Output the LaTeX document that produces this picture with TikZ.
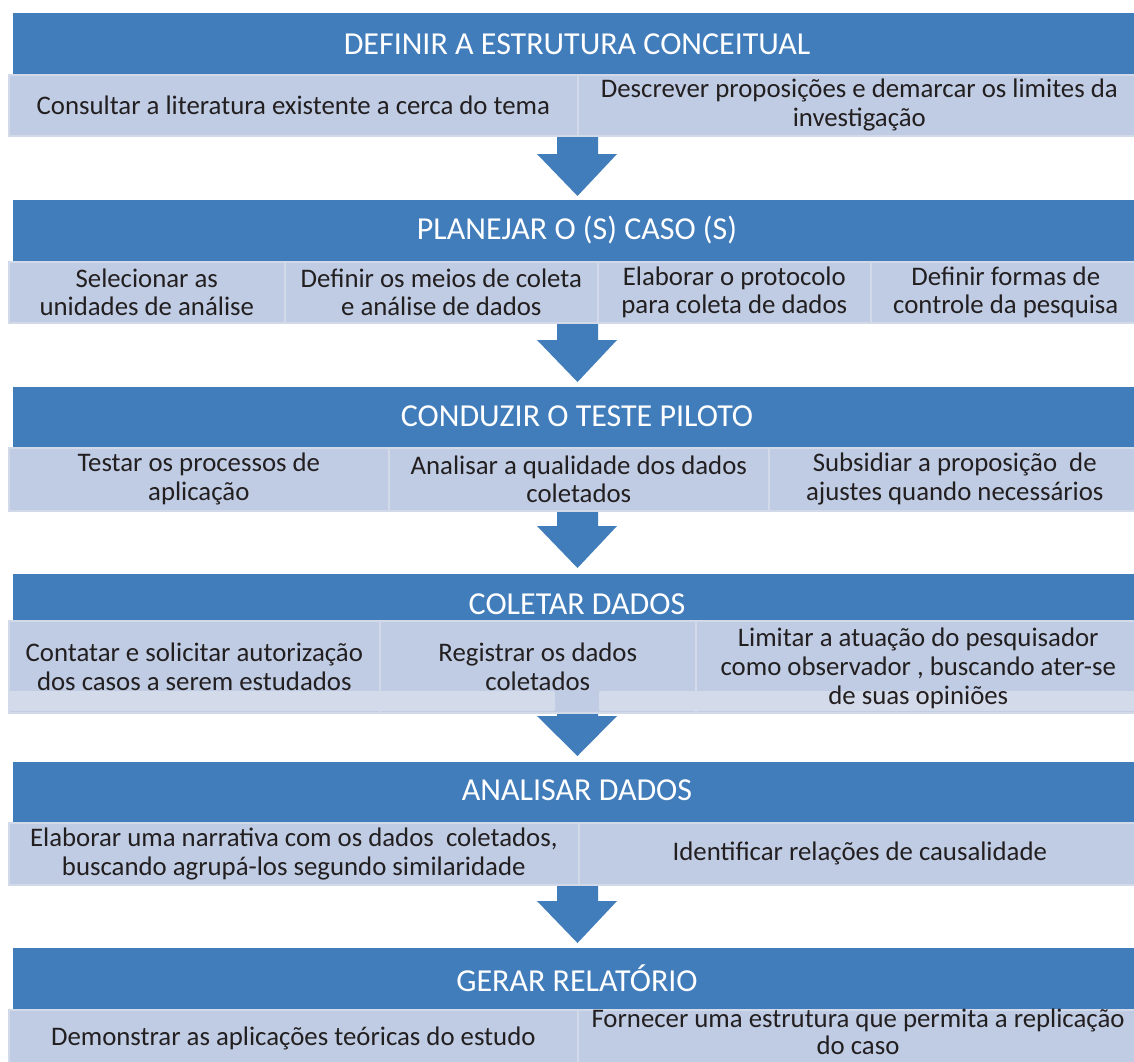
\documentclass[tikz,border=0pt]{standalone}
\usepackage{fontspec}
\setmainfont{Carlito}
\usetikzlibrary{calc}
\definecolor{hdrblue}{HTML}{427DBB}
\definecolor{subfill}{HTML}{BFCCE3}
\definecolor{subedge}{HTML}{D2DAEA}
\definecolor{bandfill}{HTML}{D3DAE9}
\definecolor{txt}{HTML}{231F20}
\tikzset{
 hdrbox/.style={fill=hdrblue, draw=none, inner sep=0pt},
 hdrtext/.style={text=white, font=\fontsize{24}{28}\selectfont, inner sep=0pt},
 subtext/.style={text=txt, font=\fontsize{20.1}{21.6}\selectfont, align=center, inner sep=0pt},
 subbox/.style={fill=subfill, draw=subedge, line width=1.2pt, inner sep=0pt},
 blockarrow/.style={fill=hdrblue, draw=none},
 bandstrip/.style={fill=bandfill, draw=none, rounded corners=1.5pt},
}
% name, y1, y2, title, title y
\newcommand\hdrrow[5]{%
 \node[hdrbox, anchor=north west, minimum width={0.75pt*(1140-13)}, minimum height={0.75pt*(#3-#2)}] (#1) at (13,#2) {};
 \node[hdrtext] (#1t) at (577,#5) {#4};
}
% name, x1, y1, x2, y2, text
\newcommand\subcell[6]{%
 \node[subbox, anchor=north west, minimum width={0.75pt*(#4-#2)}, minimum height={0.75pt*(#5-#3)}] (#1) at (#2,#3) {};
 \node[subtext] (#1t) at (#1.center) {#6};
}
% name, shaft top, head top, tip
\newcommand\flowdown[4]{%
 \coordinate (#1s) at (577.5,#2);
 \coordinate (#1e) at (577.5,#4);
 \fill[blockarrow] (557,#2) -- (598,#2) -- (598,#3) -- (617,#3) -- (#1e) -- (537,#3) -- (557,#3) -- cycle;
}
\begin{document}
\begin{tikzpicture}[x=0.75pt,y=-0.75pt]
\useasboundingbox (0,0) rectangle (1134,1061);
\clip (0,0) rectangle (1134,1061);

% arrows (behind boxes)
\flowdown{a1}{128}{154}{196}
\flowdown{a2}{316}{340}{382}
\flowdown{a3}{504}{526}{568}
\flowdown{a4}{708}{716}{756}
\flowdown{a5}{878}{901}{943}

% row 1
\hdrrow{h1}{13}{75}{DEFINIR A ESTRUTURA CONCEITUAL}{44}
\subcell{s1a}{8}{74}{577}{135}{Consultar a literatura existente a cerca do tema}
\subcell{s1b}{577}{74}{1140}{135}{Descrever proposições e demarcar os limites da\\investigação}

% row 2
\hdrrow{h2}{200}{262}{PLANEJAR O (S) CASO (S)}{230}
\subcell{s2a}{8}{261}{284}{322}{Selecionar as\\unidades de análise}
\subcell{s2b}{284}{261}{597}{322}{Definir os meios de coleta\\e análise de dados}
\subcell{s2c}{597}{261}{870}{322}{Elaborar o protocolo\\para coleta de dados}
\subcell{s2d}{870}{261}{1140}{322}{Definir formas de\\controle da pesquisa}

% row 3
\hdrrow{h3}{387}{448}{CONDUZIR O TESTE PILOTO}{416}
\subcell{s3a}{8}{447}{388}{510}{Testar os processos de\\aplicação}
\subcell{s3b}{388}{447}{768}{510}{Analisar a qualidade dos dados\\coletados}
\subcell{s3c}{768}{447}{1140}{510}{Subsidiar a proposição\ \ de\\ajustes quando necessários}

% row 4
\hdrrow{h4}{574}{621}{COLETAR DADOS}{604}
\subcell{s4a}{8}{620}{379}{712}{}
\subcell{s4b}{379}{620}{695}{712}{}
\subcell{s4c}{695}{620}{1140}{712}{}
\fill[bandstrip] (9,691) rectangle (555,711);
\fill[bandstrip] (599,691) rectangle (1139,711);
\node[subtext] (s4at) at (s4a.center) {Contatar e solicitar autorização\\dos casos a serem estudados};
\node[subtext] (s4bt) at (s4b.center) {Registrar os dados\\coletados};
\node[subtext] (s4ct) at ([yshift=-1pt]s4c.center) {Limitar a atuação do pesquisador\\como observador , buscando ater-se\\de suas opiniões};

% row 5
\hdrrow{h5}{762}{823}{ANALISAR DADOS}{790}
\subcell{s5a}{8}{822}{578}{884}{Elaborar uma narrativa com os dados\ \ coletados,\\buscando agrupá-los segundo similaridade}
\subcell{s5b}{578}{822}{1140}{884}{Identificar relações de causalidade}

% row 6
\hdrrow{h6}{948}{1010}{GERAR RELATÓRIO}{978}
\subcell{s6a}{8}{1009}{577}{1066}{Demonstrar as aplicações teóricas do estudo}
\node[subbox, anchor=north west, minimum width={0.75pt*563}, minimum height={0.75pt*57}] (s6b) at (577,1009) {};
\node[subtext, font=\fontsize{20.1}{20.4}\selectfont] (s6bt) at (858,1032) {Fornecer uma estrutura que permita a replicação\\do caso};
\end{tikzpicture}
\end{document}
